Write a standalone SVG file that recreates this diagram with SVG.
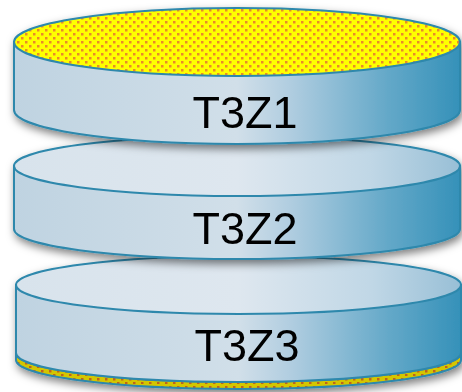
<svg xmlns="http://www.w3.org/2000/svg" width="462" height="392" viewBox="0 0 462 392">
  <defs>
    <linearGradient id="sideGrad" x1="0" y1="0" x2="1" y2="0">
      <stop offset="0" stop-color="#bfd3e1"/>
      <stop offset="0.5" stop-color="#d1dfe9"/>
      <stop offset="0.62" stop-color="#b0cde0"/>
      <stop offset="0.84" stop-color="#63a8c8"/>
      <stop offset="1" stop-color="#3591b9"/>
    </linearGradient>
    <linearGradient id="lidGrad" x1="0" y1="0" x2="1" y2="0">
      <stop offset="0" stop-color="#d8e3ec"/>
      <stop offset="0.5" stop-color="#dee7ef"/>
      <stop offset="0.8" stop-color="#c0d7e6"/>
      <stop offset="1" stop-color="#98bfd6"/>
    </linearGradient>
    <pattern id="dotsTop" width="8" height="8" patternUnits="userSpaceOnUse">
      <rect width="8" height="8" fill="#ffff00"/>
      <rect x="1" y="1" width="2.5" height="2.5" fill="#e98a2c"/>
      <rect x="5" y="5" width="2.5" height="2.5" fill="#e98a2c"/>
    </pattern>
    <pattern id="dotsBase" width="8" height="8" patternUnits="userSpaceOnUse">
      <rect width="8" height="8" fill="#d4c600"/>
      <rect x="1" y="2" width="2.5" height="2.5" fill="#c0641e"/>
      <rect x="5" y="6" width="2.5" height="2.5" fill="#c0641e"/>
    </pattern>
    <filter id="shadow" x="-10%" y="-20%" width="125%" height="150%">
      <feDropShadow dx="2" dy="4" stdDeviation="4" flood-color="#000" flood-opacity="0.5"/>
    </filter>
  </defs>
  <style>
    .side { fill: url(#sideGrad); stroke: #2e88ac; stroke-width: 2; }
    .lid { fill: url(#lidGrad); stroke: #2e88ac; stroke-width: 2; }
    .lid-yellow { fill: url(#dotsTop); stroke: #2e88ac; stroke-width: 2; }
    .base { fill: url(#dotsBase); stroke: #2e88ac; stroke-width: 2; }
    .label { font-family: "Liberation Sans", Arial, sans-serif; font-size: 45px; fill: #000; text-anchor: middle; }
  </style>

  <!-- bottom disc, with a thin yellow base layer -->
  <g id="t3z3" filter="url(#shadow)">
    <path class="base" d="M16,353 V360 A222.5,29 0 0 0 461,360 V353 A222.5,29 0 0 1 16,353 Z"/>
    <path class="side" d="M16,285 V353 A222.5,29 0 0 0 461,353 V285 Z"/>
    <ellipse class="lid" cx="238.5" cy="285" rx="222.5" ry="29"/>
    <text class="label" x="247" y="361">T3Z3</text>
  </g>

  <!-- middle disc -->
  <g id="t3z2" filter="url(#shadow)">
    <path class="side" d="M14,166 V229 A223,30 0 0 0 460,229 V166 Z"/>
    <ellipse class="lid" cx="237" cy="166" rx="223" ry="30"/>
    <text class="label" x="245" y="244">T3Z2</text>
  </g>

  <!-- top disc with dotted yellow lid -->
  <g id="t3z1" filter="url(#shadow)">
    <path class="side" d="M14,42 V110 A223,34 0 0 0 460,110 V42 Z"/>
    <ellipse class="lid-yellow" cx="237" cy="42" rx="223" ry="34"/>
    <text class="label" x="245" y="128">T3Z1</text>
  </g>
</svg>
